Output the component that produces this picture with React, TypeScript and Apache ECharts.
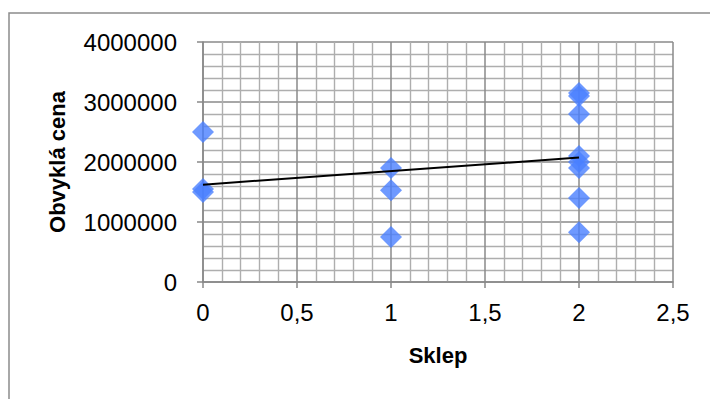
import React, { useEffect, useRef } from "react";
import * as echarts from "echarts";

const sklep: number[] = [0, 0, 0, 1, 1, 1, 2, 2, 2, 2, 2, 2, 2, 2];
const cena: number[] = [
  2500000, 1500000, 1550000,
  1900000, 1530000, 750000,
  3150000, 3100000, 2800000, 2100000, 2000000, 1900000, 1400000, 830000,
];
const xTicks: string[] = ["0", "0,5", "1", "1,5", "2", "2,5"];

function regression(xs: number[], ys: number[]) {
  const n = xs.length;
  const mx = xs.reduce((a, b) => a + b, 0) / n;
  const my = ys.reduce((a, b) => a + b, 0) / n;
  let sxy = 0;
  let sxx = 0;
  for (let i = 0; i < n; i++) {
    sxy += (xs[i] - mx) * (ys[i] - my);
    sxx += (xs[i] - mx) * (xs[i] - mx);
  }
  const slope = sxy / sxx;
  return { slope, intercept: my - slope * mx };
}

export default function App() {
  const ref = useRef<HTMLDivElement>(null);
  useEffect(() => {
    if (!ref.current) return;
    const chart = echarts.init(ref.current, null, { renderer: "svg" });
    const { slope, intercept } = regression(sklep, cena);
    const xMin = Math.min(...sklep);
    const xMax = Math.max(...sklep);
    const font = "'Liberation Sans', Arial, sans-serif";
    chart.setOption({
      animation: false,
      backgroundColor: "#ffffff",
      graphic: [
        {
          type: "rect",
          shape: { x: 9, y: 13, width: 760, height: 450 },
          style: { fill: "none", stroke: "#8c8c8c", lineWidth: 1.5 },
          silent: true,
        },
      ],
      grid: { left: 203, right: 37, top: 42, bottom: 117 },
      xAxis: {
        type: "value",
        min: 0,
        max: 2.5,
        interval: 0.5,
        name: "Sklep",
        nameLocation: "middle",
        nameGap: 62,
        nameTextStyle: { fontFamily: font, fontWeight: "bold", fontSize: 22, color: "#000" },
        axisLine: { show: true, onZero: false, lineStyle: { color: "#888", width: 1.5 } },
        axisTick: { show: true, length: 6, lineStyle: { color: "#888", width: 1.5 } },
        axisLabel: {
          margin: 18,
          fontFamily: font,
          fontSize: 24,
          color: "#000",
          formatter: (v: number) => xTicks[Math.round(v / 0.5)] ?? "",
        },
        splitLine: { show: true, lineStyle: { color: "#8a8a8a", width: 1.5 } },
        minorTick: { show: false, splitNumber: 5 },
        minorSplitLine: { show: true, lineStyle: { color: "#aeaeae", width: 1.4 } },
      },
      yAxis: {
        type: "value",
        min: 0,
        max: 4000000,
        interval: 1000000,
        name: "Obvyklá cena",
        nameLocation: "middle",
        nameGap: 135,
        nameRotate: 90,
        nameTextStyle: { fontFamily: font, fontWeight: "bold", fontSize: 22, color: "#000" },
        axisLine: { show: true, onZero: false, lineStyle: { color: "#888", width: 1.5 } },
        axisTick: { show: true, length: 6, lineStyle: { color: "#888", width: 1.5 } },
        axisLabel: {
          margin: 26,
          fontFamily: font,
          fontSize: 24,
          color: "#000",
          formatter: (v: number) => String(v),
        },
        splitLine: { show: true, lineStyle: { color: "#8a8a8a", width: 1.5 } },
        minorTick: { show: false, splitNumber: 5 },
        minorSplitLine: { show: true, lineStyle: { color: "#aeaeae", width: 1.4 } },
      },
      series: [
        {
          type: "scatter",
          data: sklep.map((x, i) => [x, cena[i]]),
          symbol: "diamond",
          symbolSize: [22, 22],
          itemStyle: { color: "#4a80ff" },
          z: 3,
        },
        {
          type: "line",
          data: [
            [xMin, intercept + slope * xMin],
            [xMax, intercept + slope * xMax],
          ],
          symbol: "none",
          lineStyle: { color: "#000", width: 2 },
          z: 4,
        },
      ],
    });
    return () => chart.dispose();
  }, []);
  return (
    <div
      ref={ref}
      style={{ position: "fixed", left: 0, top: 0, width: 710, height: 399 }}
    />
  );
}
